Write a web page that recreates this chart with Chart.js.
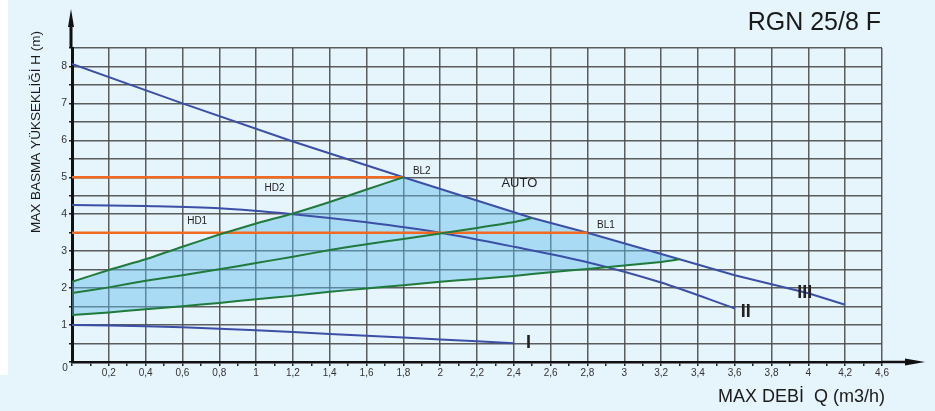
<!DOCTYPE html>
<html>
<head>
<meta charset="utf-8">
<script src="https://cdn.jsdelivr.net/npm/chart.js@4"></script>
<style>
  html, body { margin: 0; padding: 0; background: #e6f4fc; }
  #wrap { position: relative; width: 935px; height: 411px; }
  #strip { position: absolute; left: 0; top: 0; width: 8px; height: 375px; background: #fff; }
  canvas { position: absolute; left: 0; top: 0; }
</style>
</head>
<body>
<div id="wrap">
  <div id="strip"></div>
  <canvas id="chart-rgn" width="935" height="411"></canvas>
</div>
<script>
// RGN 25/8 F – pump curves, points are [Q (m3/h), H (m)]
const curveI   = [[0, 1.0], [0.4, 0.97], [0.8, 0.9], [1.2, 0.81], [1.6, 0.71], [2.0, 0.61], [2.4, 0.51]];
const curveII  = [[0, 4.25], [0.4, 4.22], [0.8, 4.16], [1.2, 4.0], [1.6, 3.78], [2.0, 3.5], [2.4, 3.12], [2.8, 2.7], [3.2, 2.15], [3.6, 1.45]];
const curveIII = [[0, 8.07], [0.6, 7.0], [1.2, 5.97], [1.8, 5.0], [2.5, 3.9], [2.8, 3.5], [3.3, 2.78], [3.6, 2.35], [4.0, 1.86], [4.2, 1.55]];

// green proportional-pressure lines
const greenHigh = [[0, 2.17], [0.2, 2.49], [0.4, 2.78], [0.6, 3.12], [0.8, 3.45], [1.0, 3.75], [1.2, 4.02], [1.4, 4.33], [1.6, 4.67], [1.8, 5.0]];
const greenMid  = [[0, 1.87], [0.2, 2.02], [0.4, 2.2], [0.6, 2.35], [0.8, 2.51], [1.0, 2.68], [1.2, 2.85], [1.4, 3.03], [1.6, 3.19], [1.8, 3.33], [2.0, 3.48], [2.2, 3.63], [2.4, 3.79], [2.5, 3.9]];
const greenLow  = [[0, 1.27], [0.2, 1.34], [0.4, 1.43], [0.6, 1.51], [0.8, 1.6], [1.0, 1.7], [1.2, 1.79], [1.4, 1.9], [1.6, 1.99], [1.8, 2.08], [2.0, 2.17], [2.2, 2.25], [2.4, 2.33], [2.6, 2.43], [2.8, 2.52], [3.0, 2.61], [3.2, 2.71], [3.3, 2.78]];

// orange constant-pressure lines
const hd2Line = [[0, 5], [1.8, 5]];
const hd1Line = [[0, 3.5], [2.8, 3.5]];

// tick labels (every 0.2 on Q, every 1 on H)
const xTickLabels = ["0,2", "0,4", "0,6", "0,8", "1", "1,2", "1,4", "1,6", "1,8", "2", "2,2",
                     "2,4", "2,6", "2,8", "3", "3,2", "3,4", "3,6", "3,8", "4", "4,2", "4,6"];
const yTickLabels = ["1", "2", "3", "4", "5", "6", "7", "8"];

const FONT = "'Liberation Sans', Arial, sans-serif";
const BLUE = "#3c4fa6";
const GREEN = "#1f7a3c";
const ORANGE = "#f26a22";
const GRID = "rgba(75,75,75,0.9)";

const toXY = arr => arr.map(p => ({ x: p[0], y: p[1] }));

// AUTO area: upper edge = green high line up to BL2, then curve III down to the low green line
const autoUpper = greenHigh.concat(curveIII.filter(p => p[0] > 1.8 && p[0] <= 3.3));

function line(data, color, width, tension) {
  return {
    data: toXY(data),
    showLine: true,
    borderColor: color,
    borderWidth: width,
    pointRadius: 0,
    tension: tension,
    fill: false,
    order: 0
  };
}

const datasets = [
  line(greenLow, GREEN, 2, 0.2),                        // 0 – fill target
  {
    data: toXY(autoUpper),
    showLine: true,
    borderWidth: 0,
    borderColor: "rgba(0,0,0,0)",
    backgroundColor: "rgba(95,188,236,0.45)",
    pointRadius: 0,
    tension: 0,
    fill: { target: 0 },
    order: 10
  },
  line(greenMid, GREEN, 2, 0.2),
  line(greenHigh, GREEN, 2, 0.2),
  line(hd2Line, ORANGE, 2.5, 0),
  line(hd1Line, ORANGE, 2.5, 0),
  line(curveI, BLUE, 2, 0.3),
  line(curveII, BLUE, 2, 0.3),
  line(curveIII, BLUE, 2, 0)
];

// free text on the chart, positions in data units
const notes = [
  { text: "HD2",  q: 1.1,  h: 4.7,  font: "10px " + FONT },
  { text: "HD1",  q: 0.68, h: 3.81, font: "10px " + FONT },
  { text: "BL2",  q: 1.9,  h: 5.16, font: "10px " + FONT },
  { text: "AUTO", q: 2.43, h: 4.84, font: "13px " + FONT },
  { text: "BL1",  q: 2.9,  h: 3.7,  font: "10px " + FONT },
  { text: "I",    q: 2.48, h: 0.51, font: "bold 18px 'Liberation Sans Narrow', " + FONT },
  { text: "II",   q: 3.66, h: 1.35, font: "bold 18px 'Liberation Sans Narrow', " + FONT },
  { text: "III",  q: 3.98, h: 1.86, font: "bold 18px 'Liberation Sans Narrow', " + FONT }
];

const decorPlugin = {
  id: "decor",
  afterDraw(chart) {
    const { ctx, chartArea: a, scales: { x, y } } = chart;
    ctx.save();

    // axis extensions with arrow heads
    ctx.strokeStyle = "#111";
    ctx.fillStyle = "#111";
    ctx.lineWidth = 3;
    ctx.beginPath();
    ctx.moveTo(a.left - 1, a.top);
    ctx.lineTo(a.left - 1, 24);
    ctx.stroke();
    ctx.beginPath();
    ctx.moveTo(a.left - 1, 9);
    ctx.lineTo(a.left - 4, 27);
    ctx.lineTo(a.left + 2, 27);
    ctx.closePath();
    ctx.fill();

    ctx.lineWidth = 2.5;
    ctx.beginPath();
    ctx.moveTo(a.right, a.bottom);
    ctx.lineTo(908, a.bottom);
    ctx.stroke();
    ctx.beginPath();
    ctx.moveTo(925, a.bottom);
    ctx.lineTo(905, a.bottom - 3.5);
    ctx.lineTo(905, a.bottom + 3.5);
    ctx.closePath();
    ctx.fill();

    // origin label
    ctx.fillStyle = "#333";
    ctx.font = "10px " + FONT;
    ctx.textAlign = "center";
    ctx.textBaseline = "middle";
    ctx.fillText("0", a.left - 7, a.bottom + 6);

    // curve labels
    ctx.fillStyle = "#222";
    notes.forEach(n => {
      ctx.font = n.font;
      ctx.fillText(n.text, x.getPixelForValue(n.q), y.getPixelForValue(n.h));
    });

    // titles
    ctx.fillStyle = "#1a1a1a";
    ctx.font = "25px " + FONT;
    ctx.textAlign = "right";
    ctx.fillText("RGN 25/8 F", 881, 23);

    ctx.font = "18px " + FONT;
    ctx.fillText("MAX DEBİ  Q (m3/h)", 885, 397);

    ctx.translate(36, 132);
    ctx.rotate(-Math.PI / 2);
    ctx.textAlign = "center";
    ctx.font = "13.5px " + FONT;
    ctx.fillText("MAX BASMA YÜKSEKLİĞİ H (m)", 0, 0);

    ctx.restore();
  }
};

const canvas = document.getElementById("chart-rgn");
new Chart(canvas.getContext("2d"), {
  type: "scatter",
  data: { datasets },
  options: {
    responsive: false,
    animation: false,
    layout: { padding: { left: 0, top: 48, right: 53, bottom: 0 } },
    plugins: { legend: { display: false }, tooltip: { enabled: false } },
    scales: {
      x: {
        type: "linear",
        min: 0,
        max: 4.4,
        afterFit: s => { s.height = 49; },
        afterBuildTicks: s => {
          s.ticks = [];
          for (let i = 0; i <= 44; i++) s.ticks.push({ value: i / 10 });
        },
        ticks: {
          autoSkip: false,
          maxRotation: 0,
          padding: 1,
          color: "#333",
          font: { family: FONT, size: 10 },
          callback: (v, i) => (i > 0 && i % 2 === 0 ? xTickLabels[i / 2 - 1] : "")
        },
        grid: {
          color: c => (c.index > 0 && c.index % 2 === 0 ? GRID : "rgba(0,0,0,0)"),
          lineWidth: 1.5,
          tickColor: "#222",
          tickLength: 4
        },
        border: { color: "#111", width: 2.5 }
      },
      y: {
        type: "linear",
        min: 0,
        max: 8.5,
        afterFit: s => { s.width = 72; },
        afterBuildTicks: s => {
          s.ticks = [];
          for (let i = 0; i <= 17; i++) s.ticks.push({ value: i / 2 });
        },
        ticks: {
          autoSkip: false,
          padding: 2,
          color: "#333",
          font: { family: FONT, size: 10.5 },
          callback: (v, i) => (i > 0 && i % 2 === 0 ? yTickLabels[i / 2 - 1] : "")
        },
        grid: {
          color: c => (c.index > 0 ? GRID : "rgba(0,0,0,0)"),
          lineWidth: 1.5,
          tickColor: "#222",
          tickLength: 3
        },
        border: { color: "#111", width: 3 }
      }
    }
  },
  plugins: [decorPlugin]
});
</script>
</body>
</html>
